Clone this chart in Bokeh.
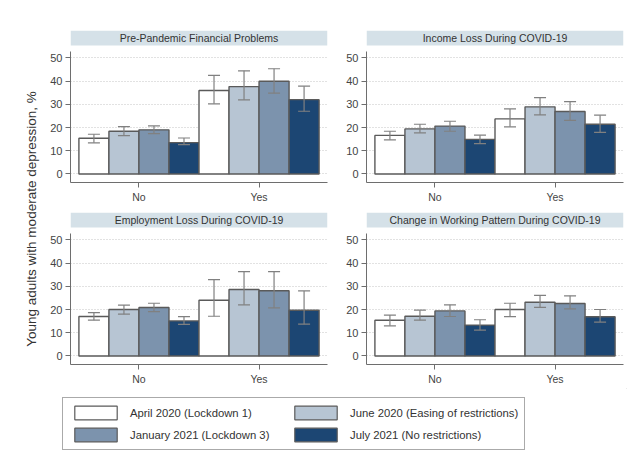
import numpy as np
from bokeh.plotting import figure
from bokeh.models import (ColumnDataSource, Range1d, FixedTicker, Whisker, TeeHead,
                          Label, Legend, LegendItem)
from bokeh.layouts import row, column
from bokeh.embed import file_html
from bokeh.resources import INLINE
from bokeh.core.properties import value

# ---------------- data ----------------
categories = ["No", "Yes"]
waves = ["April 2020 (Lockdown 1)", "June 2020 (Easing of restrictions)",
         "January 2021 (Lockdown 3)", "July 2021 (No restrictions)"]
panel_titles = ["Pre-Pandemic Financial Problems", "Income Loss During COVID-19",
                "Employment Loss During COVID-19", "Change in Working Pattern During COVID-19"]
y_ticks = [0, 10, 20, 30, 40, 50]
y_label = "Young adults with moderate depression, %"

# order: No (4 waves), Yes (4 waves)
pre_val = [15.4, 18.4, 19.0, 13.5, 35.9, 37.6, 39.9, 32.0]
pre_lo = [13.4, 16.5, 17.4, 12.6, 30.2, 31.9, 34.8, 27.0]
pre_hi = [17.1, 20.4, 20.7, 15.5, 42.4, 44.4, 45.3, 37.8]

inc_val = [16.6, 19.4, 20.6, 14.9, 23.7, 28.9, 26.9, 21.4]
inc_lo = [14.7, 17.7, 18.4, 13.1, 20.3, 25.4, 23.1, 17.9]
inc_hi = [18.4, 21.4, 22.7, 16.7, 28.0, 32.9, 31.1, 25.3]

emp_val = [17.0, 20.0, 20.9, 15.1, 24.0, 28.6, 28.1, 19.7]
emp_lo = [15.4, 18.0, 19.1, 13.6, 17.1, 22.0, 20.7, 13.7]
emp_hi = [18.7, 21.9, 22.7, 16.9, 32.9, 36.3, 36.3, 28.0]

wrk_val = [15.4, 17.1, 19.4, 13.3, 20.0, 23.1, 22.6, 16.9]
wrk_lo = [13.0, 15.4, 17.0, 11.1, 16.9, 20.9, 20.3, 14.6]
wrk_hi = [17.6, 19.7, 22.0, 15.6, 22.7, 26.1, 25.9, 20.0]

# ---------------- style ----------------
colors = ["#ffffff", "#b7c5d3", "#7c93ad", "#1c4673"]
FONT = "Liberation Sans"
OUTLINE = "#5a5a5a"
Y_LO, Y_HI = -3.66, 61.75
X_LO, X_HI = -0.57, 1.57
FRAME_H = 152
PX_Y = FRAME_H / (Y_HI - Y_LO)
STRIP_PX = 15
offsets = [-0.375, -0.125, 0.125, 0.375]


def make_panel(title, vals, lo, hi, width, left, right, height, top):
    p = figure(width=width, height=height, output_backend="svg", toolbar_location=None,
               x_range=Range1d(X_LO, X_HI), y_range=Range1d(Y_LO, Y_HI),
               min_border_left=left, min_border_right=right,
               min_border_top=top, min_border_bottom=height - top - FRAME_H)
    p.outline_line_color = None
    p.background_fill_color = "white"
    p.border_fill_color = "white"

    xs = [g + o for g in range(len(categories)) for o in offsets]
    fills = [colors[i] for g in range(len(categories)) for i in range(len(waves))]
    src = ColumnDataSource(dict(x=xs, top=vals, lo=lo, hi=hi, fill=fills))

    # title strip
    strip_bottom = Y_HI - STRIP_PX / PX_Y
    p.quad(left=[X_LO], right=[X_HI], bottom=[strip_bottom], top=[Y_HI],
           fill_color="#d5e1e8", line_color=None)
    p.text(x=[(X_LO + X_HI) / 2], y=[(Y_HI + strip_bottom) / 2], text=[title],
           text_align="center", text_baseline="middle", text_font=value(FONT),
           text_font_size="10.5px", text_color="#333333")

    p.vbar(x="x", top="top", bottom=0, width=0.25, source=src, fill_color="fill",
           line_color=OUTLINE, line_width=1.4)
    w = Whisker(source=src, base="x", upper="hi", lower="lo", dimension="height",
                line_color="#808080", line_width=1.2, level="overlay",
                upper_head=TeeHead(size=12, line_color="#808080", line_width=1.2),
                lower_head=TeeHead(size=12, line_color="#808080", line_width=1.2))
    p.add_layout(w)

    # axes
    p.yaxis.ticker = FixedTicker(ticks=y_ticks)
    p.yaxis.bounds = (Y_LO, 50 + 6.8 / PX_Y)
    p.xaxis.ticker = FixedTicker(ticks=list(range(len(categories))))
    p.xaxis.major_label_overrides = {i: c for i, c in enumerate(categories)}
    for ax in (p.xaxis, p.yaxis):
        ax.axis_line_color = "#6e6e6e"
        ax.axis_line_width = 1
        ax.major_tick_line_color = "#6e6e6e"
        ax.major_tick_out = 5
        ax.major_tick_in = 0
        ax.minor_tick_line_color = None
        ax.major_label_text_font = FONT
        ax.major_label_text_color = "#444444"
        ax.major_label_standoff = 3
    p.yaxis.major_label_text_font_size = "11px"
    p.xaxis.major_label_text_font_size = "10.5px"

    p.xgrid.visible = False
    p.ygrid.ticker = FixedTicker(ticks=y_ticks)
    p.ygrid.grid_line_color = "#c4c4c4"
    p.ygrid.grid_line_dash = "1 2"
    p.ygrid.grid_line_width = 1
    return p


ROW1_H, ROW2_H = 206, 182
p1 = make_panel(panel_titles[0], pre_val, pre_lo, pre_hi, 286, 26, 3, ROW1_H, 30)
p2 = make_panel(panel_titles[1], inc_val, inc_lo, inc_hi, 297, 36, 4, ROW1_H, 30)
p3 = make_panel(panel_titles[2], emp_val, emp_lo, emp_hi, 286, 26, 3, ROW2_H, 6)
p4 = make_panel(panel_titles[3], wrk_val, wrk_lo, wrk_hi, 297, 36, 4, ROW2_H, 6)

# shared y label
LAB_H = ROW1_H + ROW2_H
lab = figure(width=44, height=LAB_H, output_backend="svg", toolbar_location=None,
             x_range=Range1d(0, 1), y_range=Range1d(0, 1), x_axis_type=None, y_axis_type=None,
             min_border=0)
lab.outline_line_color = None
lab.add_layout(Label(x=31, y=LAB_H - 218.5, x_units="screen", y_units="screen",
                     text=y_label, angle=np.pi / 2, text_align="center", text_baseline="middle",
                     text_font=FONT, text_font_size="13.5px", text_color="#333333"))

# legend (column-major order: col 1 = April, January; col 2 = June, July)
leg = figure(width=627, height=70, output_backend="svg", toolbar_location=None,
             x_range=Range1d(0, 1), y_range=Range1d(0, 1), x_axis_type=None, y_axis_type=None,
             min_border=0)
leg.outline_line_color = None
legend_order = [0, 2, 1, 3]
items = []
for i in legend_order:
    # swatch source placed outside the visible range: only the legend shows it
    r = leg.vbar(x=[5], top=[5], bottom=[4], width=0.1, fill_color=colors[i],
                 line_color=OUTLINE, line_width=1.2)
    items.append(LegendItem(label=waves[i], renderers=[r]))
legend = Legend(items=items, location=(62, 8), orientation="vertical", ncols=2,
                glyph_width=53, glyph_height=17, label_height=17, label_standoff=8,
                label_width=154, spacing=5, padding=6, margin=0,
                border_line_color="#555555", border_line_width=1,
                label_text_font=FONT, label_text_font_size="11.3px",
                label_text_color="#333333", background_fill_color="white")
leg.add_layout(legend, "center")

layout = column(row(lab, column(row(p1, p2), row(p3, p4))), leg)
open("out.html", "w").write(file_html(layout, INLINE))
